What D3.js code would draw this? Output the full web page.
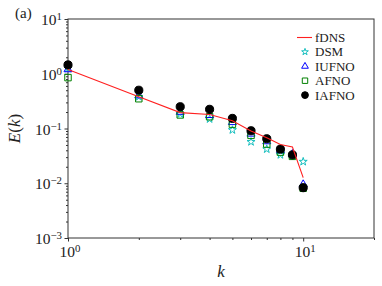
<!DOCTYPE html>
<html lang="en">
<head>
  <meta charset="UTF-8">
  <style>
    body { margin: 0; background: #fff; }
    svg text { fill: #222; }
    .axis path, .axis line { stroke: #333; }
  </style>
  <script src="https://d3js.org/d3.v7.min.js"></script>
</head>
<body>
<svg id="chart"></svg>
<script>

const wavenumbers = [1, 2, 3, 4, 5, 6, 7, 8, 9, 10];
const fDNS  = [1.2, 0.38, 0.195, 0.18, 0.139, 0.09, 0.068, 0.051, 0.046, 0.0127];
const DSM   = [1.25, 0.38, 0.185, 0.149, 0.094, 0.057, 0.042, 0.033, 0.032, 0.0248];
const IUFNO = [1.2, 0.4, 0.2, 0.175, 0.13, 0.08, 0.058, 0.04, 0.034, 0.0095];
const AFNO  = [0.85, 0.35, 0.177, 0.164, 0.12, 0.075, 0.052, 0.037, 0.031, 0.0081];
const IAFNO = [1.45, 0.5, 0.25, 0.224, 0.153, 0.091, 0.065, 0.042, 0.033, 0.0083];
const xMajor = [1, 10];
const yMajor = [1e-3, 1e-2, 1e-1, 1, 10];

const width = 382, height = 286;
const margin = {top: 19, right: 8, bottom: 48, left: 68};
const serif = '"Liberation Serif", "Times New Roman", "DejaVu Serif", serif';

const svg = d3.select('#chart')
              .attr('width', width)
              .attr('height', height);

const xScale = d3.scaleLog()
                 .domain([1, 20])
                 .range([margin.left, width - margin.right]);
const yScale = d3.scaleLog()
                 .domain([1e-3, 10])
                 .range([height - margin.bottom, margin.top]);

const xMinor = [];
[1, 10].forEach(function(d) {
  for (let m = 2; m <= 9; m++) if (d * m <= 20) xMinor.push(d * m);
});
xMinor.push(20);
const yMinor = [];
[1e-3, 1e-2, 1e-1, 1].forEach(function(d) {
  for (let m = 2; m <= 9; m++) yMinor.push(d * m);
});

// ticks
const x0 = height - margin.bottom;
svg.append('g').attr('class', 'axis')
   .attr('transform', 'translate(0,' + x0 + ')')
   .call(d3.axisBottom(xScale).tickValues(xMinor).tickSize(2).tickFormat(''))
   .select('.domain').remove();
svg.append('g').attr('class', 'axis')
   .attr('transform', 'translate(0,' + x0 + ')')
   .call(d3.axisBottom(xScale).tickValues(xMajor).tickSize(3.5).tickFormat(''))
   .select('.domain').remove();
svg.append('g').attr('class', 'axis')
   .attr('transform', 'translate(' + margin.left + ',0)')
   .call(d3.axisLeft(yScale).tickValues(yMinor).tickSize(2).tickFormat(''))
   .select('.domain').remove();
svg.append('g').attr('class', 'axis')
   .attr('transform', 'translate(' + margin.left + ',0)')
   .call(d3.axisLeft(yScale).tickValues(yMajor).tickSize(3.5).tickFormat(''))
   .select('.domain').remove();

// frame
svg.append('rect')
   .attr('x', margin.left)
   .attr('y', margin.top)
   .attr('width', width - margin.right - margin.left)
   .attr('height', height - margin.bottom - margin.top)
   .attr('fill', 'none')
   .attr('stroke', '#333')
   .attr('stroke-width', 1);

// tick labels
function power(sel, d) {
  sel.append('tspan').text('10');
  sel.append('tspan')
     .attr('dy', '-0.45em')
     .attr('font-size', '70%')
     .text(String(Math.round(Math.log10(d))).replace('-', '\u2212'));
}
svg.selectAll('.ylab')
   .data(yMajor)
   .enter()
   .append('text')
   .attr('class', 'ylab')
   .attr('x', margin.left - 6)
   .attr('y', function(d) { return yScale(d) + 6; })
   .attr('text-anchor', 'end')
   .attr('font-family', serif)
   .attr('font-size', 15.5)
   .each(function(d) { power(d3.select(this), d); });
svg.selectAll('.xlab')
   .data(xMajor)
   .enter()
   .append('text')
   .attr('class', 'xlab')
   .attr('x', function(d) { return xScale(d) + 2; })
   .attr('y', x0 + 19)
   .attr('text-anchor', 'middle')
   .attr('font-family', serif)
   .attr('font-size', 15.5)
   .each(function(d) { power(d3.select(this), d); });

// axis titles
svg.append('text')
   .attr('x', (margin.left + width - margin.right) / 2)
   .attr('y', 277)
   .attr('text-anchor', 'middle')
   .attr('font-family', serif)
   .attr('font-size', 17)
   .attr('font-style', 'italic')
   .text('k');
const ylab = svg.append('text')
   .attr('transform', 'translate(20,' + ((margin.top + x0) / 2) + ') rotate(-90)')
   .attr('text-anchor', 'middle')
   .attr('font-family', serif)
   .attr('font-size', 17);
ylab.append('tspan').attr('font-style', 'italic').text('E');
ylab.append('tspan').text('(');
ylab.append('tspan').attr('font-style', 'italic').text('k');
ylab.append('tspan').text(')');

svg.append('text')
   .attr('x', 15)
   .attr('y', 18)
   .attr('font-family', serif)
   .attr('font-size', 15)
   .text('(a)');

// data
const pts = function(vals) {
  return wavenumbers.map(function(k, i) { return {k: k, v: vals[i]}; });
};

const series = [
  {name: 'DSM', values: DSM, symbol: d3.symbolStar, size: 20, fill: 'none', stroke: '#17bfbf'},
  {name: 'IUFNO', values: IUFNO, symbol: d3.symbolTriangle, size: 28, fill: 'none', stroke: '#0000ff'},
  {name: 'AFNO', values: AFNO, symbol: d3.symbolSquare, size: 42, fill: 'none', stroke: '#008000'},
  {name: 'IAFNO', values: IAFNO, symbol: d3.symbolCircle, size: 52, fill: '#000', stroke: '#000'}
];

const line = d3.line()
               .x(function(d) { return xScale(d.k); })
               .y(function(d) { return yScale(d.v); });

series.forEach(function(s) {
  svg.append('g')
     .selectAll('path')
     .data(pts(s.values))
     .enter()
     .append('path')
     .attr('transform', function(d) {
       return 'translate(' + xScale(d.k) + ',' + yScale(d.v) + ')';
     })
     .attr('d', d3.symbol().type(s.symbol).size(s.size))
     .attr('fill', s.fill)
     .attr('stroke', s.stroke)
     .attr('stroke-width', 1);
});

svg.append('path')
   .datum(pts(fDNS))
   .attr('d', line)
   .attr('fill', 'none')
   .attr('stroke', '#ff2020')
   .attr('stroke-width', 1.1);

// legend
const legendY = [37.5, 51.9, 66.3, 80.7, 95.1];
const legend = svg.append('g');
legend.append('line')
      .attr('x1', 297).attr('x2', 312)
      .attr('y1', legendY[0]).attr('y2', legendY[0])
      .attr('stroke', '#ff2020')
      .attr('stroke-width', 1.1);
legend.append('text')
      .attr('x', 315).attr('y', legendY[0] + 4.5)
      .attr('font-family', serif)
      .attr('font-size', 13)
      .text('fDNS');
series.forEach(function(s, i) {
  const y = legendY[i + 1];
  legend.append('path')
        .attr('transform', 'translate(305,' + y + ')')
        .attr('d', d3.symbol().type(s.symbol).size(s.size * 0.7))
        .attr('fill', s.fill)
        .attr('stroke', s.stroke);
  legend.append('text')
        .attr('x', 315).attr('y', y + 4.5)
        .attr('font-family', serif)
        .attr('font-size', 13)
        .text(s.name);
});

</script>
</body>
</html>
